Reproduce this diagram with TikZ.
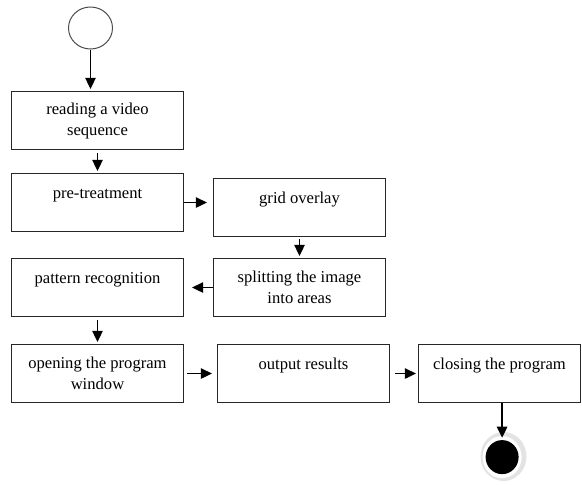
\documentclass[tikz,border=0pt]{standalone}
\usepackage{fontspec}
\setmainfont{Liberation Serif}
\usepackage{tikz}
\usetikzlibrary{arrows.meta, shapes.geometric, positioning}

\begin{document}
\begin{tikzpicture}[shorten >=1pt, on grid, >={Triangle[length=5.5pt, width=5.2pt]},
    box/.style={rectangle, draw=black!85, line width=0.6pt, minimum width=86pt, minimum height=29pt, inner sep=0pt, align=center, font=\fontsize{8.3}{10.5}\selectfont},
    topline/.style={text height=6pt, text depth=10.5pt},
    initial/.style={ellipse, draw=black!70, line width=0.5pt, minimum width=22pt, minimum height=21pt, inner sep=0pt},
    halo/.style={ellipse, fill=gray!22, minimum width=23pt, minimum height=24.5pt, inner sep=0pt},
    final/.style={ellipse, fill=black, minimum width=16.5pt, minimum height=17pt, inner sep=0pt}]

            \useasboundingbox (-48.75pt,60.25pt) rectangle (242.25pt,-181.75pt);

            \node[box] (read) {reading a video\\sequence};
            \node[initial, above left=46.25pt and 3.5pt of read] (start) {};
            \node[box, topline, below=41pt of read] (pre) {pre-treatment};
            \node[box, topline, below right=2.5pt and 101pt of pre] (grid) {grid overlay};
            \node[box, below=40pt of grid] (split) {splitting the image\\into areas};
            \node[box, topline, left=101pt of split] (pattern) {pattern recognition};
            \node[box, below=43pt of pattern] (open) {opening the program\\window};
            \node[box, topline, right=103pt of open] (output) {output results};
            \node[box, topline, minimum width=81pt, right=98pt of output] (closing) {closing the program};
            \node[halo, below right=41.5pt and 2pt of closing] (endhalo) {};
            \node[fill=white, ellipse, minimum width=19.5pt, minimum height=21pt, inner sep=0pt, below left=0.3pt and 0.7pt of endhalo] (endring) {};
            \node[final] (end) at (endring) {};

            \draw[->, line width=0.7pt] (start.south) -- (start.south |- read.north);
            \draw[->, line width=0.7pt, shorten <=1.5pt] (read) -- (pre);
            \draw[->, line width=0.7pt, shorten >=3pt] (pre.east) -- (pre.east -| grid.west);
            \draw[->, line width=0.7pt, shorten <=1pt] (grid) -- (split);
            \draw[->, line width=0.7pt, shorten >=4pt] (split.west) -- (split.west -| pattern.east);
            \draw[->, line width=0.7pt, shorten <=1.5pt] (pattern) -- (open);
            \draw[->, line width=0.7pt, shorten <=1.5pt, shorten >=2.5pt] (output.west -| open.east) -- (output.west);
            \draw[->, line width=0.7pt, shorten <=2.5pt] (output.east) -- (output.east -| closing.west);
            \draw[->, line width=0.7pt] (closing.south -| end) -- (end.north);

        \end{tikzpicture}
\end{document}
